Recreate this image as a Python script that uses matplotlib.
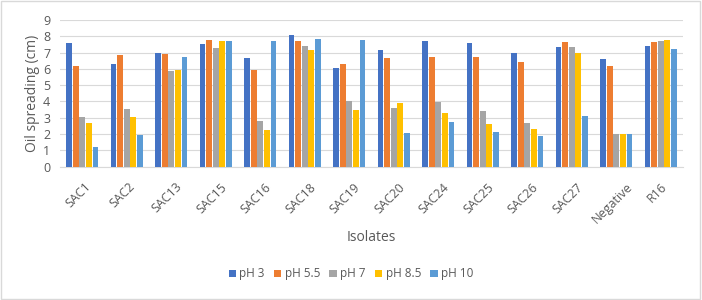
import matplotlib
matplotlib.use("Agg")
import matplotlib.pyplot as plt
import matplotlib.transforms as mtransforms
import numpy as np

categories = ["SAC1", "SAC2", "SAC13", "SAC15", "SAC16", "SAC18", "SAC19", "SAC20",
              "SAC24", "SAC25", "SAC26", "SAC27", "Negative", "R16"]
series_names = ["pH 3", "pH 5.5", "pH 7", "pH 8.5", "pH 10"]
ph3 = [7.6, 6.3, 6.95, 7.5, 6.65, 8.05, 6.05, 7.15, 7.7, 7.6, 7.0, 7.35, 6.6, 7.4]
ph55 = [6.2, 6.85, 6.9, 7.75, 5.9, 7.7, 6.3, 6.65, 6.7, 6.75, 6.4, 7.65, 6.2, 7.65]
ph7 = [3.05, 3.55, 5.85, 7.3, 2.8, 7.4, 4.0, 3.6, 3.95, 3.4, 2.65, 7.35, 2.0, 7.7]
ph85 = [2.7, 3.05, 5.9, 7.7, 2.25, 7.15, 3.45, 3.9, 3.3, 2.6, 2.3, 6.95, 2.0, 7.75]
ph10 = [1.2, 1.95, 6.75, 7.7, 7.7, 7.85, 7.8, 2.05, 2.75, 2.1, 1.9, 3.1, 2.0, 7.2]
colors = ["#4472C4", "#ED7D31", "#A5A5A5", "#FFC000", "#5B9BD5"]

plt.rcParams['font.family'] = ['Open Sans', 'DejaVu Sans']
txt = "#595959"

fig = plt.figure(figsize=(7.02, 3.0), dpi=100)
ax = fig.add_axes([60/702, 1-166.5/300, 623/702, 146.5/300])

x = np.arange(len(categories))
w = 0.148
for i, (vals, name) in enumerate(zip([ph3, ph55, ph7, ph85, ph10], series_names)):
    ax.bar(x + (i - 2) * w, vals, width=w * 0.88, color=colors[i], label=name, zorder=3)

ax.set_xlim(-0.5, len(categories) - 0.5)
ax.set_ylim(0, 9)
ax.set_yticks(range(10))
ax.grid(axis='y', color='#D9D9D9', linewidth=0.8, zorder=0)
for s in ['top', 'right', 'left']:
    ax.spines[s].set_visible(False)
ax.spines['bottom'].set_color('#D9D9D9')
ax.tick_params(axis='both', length=0, colors=txt, labelsize=9)
ax.tick_params(axis='y', pad=7)
ax.set_xticks(x)
ax.set_xticklabels(categories, rotation=45, ha='center')
ax.tick_params(axis='x', pad=10)
offset = mtransforms.ScaledTranslation(-4/100, 0, fig.dpi_scale_trans)
for lab in ax.get_xticklabels():
    lab.set_transform(lab.get_transform() + offset)
ax.set_ylabel("Oil spreading (cm)", color=txt, fontsize=10, labelpad=2)
ax.set_xlabel("Isolates", color=txt, fontsize=10, labelpad=3)

handles, labels = ax.get_legend_handles_labels()
fig.legend(handles, labels, loc='center', bbox_to_anchor=(0.5, 1 - 274/300), ncol=5,
           frameon=False, fontsize=8.5, handlelength=0.6, handleheight=0.6,
           handletextpad=0.3, columnspacing=0.8, labelcolor=txt)

border = plt.Rectangle((0.002, 0.004), 0.995, 0.992, transform=fig.transFigure,
                       fill=False, edgecolor='#D9D9D9', linewidth=1)
fig.patches.append(border)

fig.savefig("out.png", dpi=100)
